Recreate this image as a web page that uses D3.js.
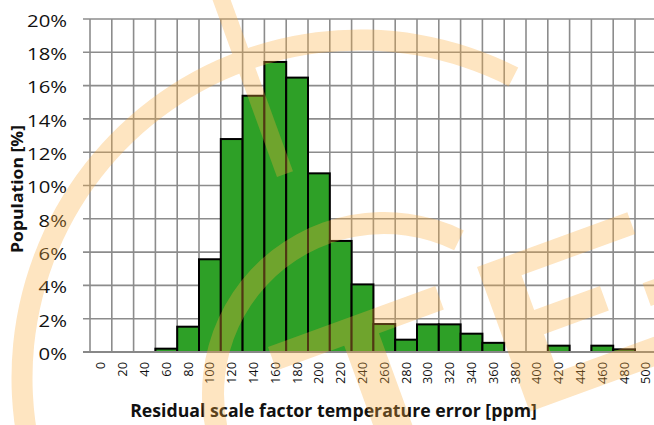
<!DOCTYPE html>
<html><head><meta charset="utf-8">
<script src="https://cdn.jsdelivr.net/npm/d3@7"></script>
<style>html,body{margin:0;padding:0;background:#fff;} svg{display:block;}</style>
</head><body>
<svg id="chart" width="654" height="425"></svg>
<script>
// ---- data ----
const categories = ["0","20","40","60","80","100","120","140","160","180","200","220","240","260","280","300","320","340","360","380","400","420","440","460","480","500"];
const population = [0,0,0,0.20,1.52,5.57,12.79,15.39,17.42,16.48,10.73,6.67,4.06,1.68,0.74,1.66,1.66,1.10,0.55,0,0,0.38,0,0.38,0.16,0];
const yTicks = [0,2,4,6,8,10,12,14,16,18,20];
const xTitle = "Residual scale factor temperature error [ppm]";
const yTitle = "Population [%]";

// ---- layout ----
const FONT = "'Open Sans', Lato, sans-serif";
const plotLeft = 90, plotTop = 19, plotBottom = 352, step = 21.8;
const plotRight = plotLeft + categories.length * step;

const svg = d3.select("#chart");
const x = d3.scaleBand().domain(categories).range([plotLeft, plotRight]).padding(0);
const y = d3.scaleLinear().domain([0, 20]).range([plotBottom, plotTop]);

// grid
const grid = svg.append("g").attr("stroke", "#8c8c8c").attr("stroke-width", 1.6);
grid.selectAll("line.h").data(yTicks).join("line").attr("class","h")
  .attr("x1", plotLeft - 7).attr("x2", plotRight).attr("y1", d => y(d)).attr("y2", d => y(d));
const bounds = categories.map(c => x(c)).concat([x(categories[categories.length-1]) + x.bandwidth()]);
grid.selectAll("line.v").data(bounds).join("line").attr("class","v")
  .attr("x1", d => d).attr("x2", d => d).attr("y1", plotTop).attr("y2", plotBottom);

// bars
const data = categories.map((c, i) => ({c, v: population[i]})).filter(d => d.v > 0);
svg.append("g").selectAll("rect").data(data).join("rect")
  .attr("x", d => x(d.c)).attr("width", x.bandwidth())
  .attr("y", d => y(d.v)).attr("height", d => y(0) - y(d.v))
  .attr("fill", "#2ea027").attr("stroke", "#000").attr("stroke-width", 2);

// x axis baseline
svg.append("line").attr("x1", plotLeft - 7).attr("x2", plotRight).attr("y1", y(0)).attr("y2", y(0))
  .attr("stroke", "#888").attr("stroke-width", 2);

function widthOf(text, size, weight) {
  const t = svg.append("text").attr("font-family", FONT).attr("font-size", size)
    .attr("font-weight", weight).text(text);
  const w = t.node().getComputedTextLength();
  t.remove();
  return w;
}

// y tick labels
const kY = 40 / widthOf("20%", 16.5, 400);
svg.append("g").selectAll("text").data(yTicks).join("text")
  .attr("transform", d => `translate(67,${y(d) + 7.8}) scale(${kY},1)`)
  .attr("text-anchor", "end").attr("font-family", FONT).attr("font-size", 16.5)
  .attr("fill", "#111").text(d => d + "%");

// x tick labels
const kX = 22 / widthOf("100", 12.5, 400);
svg.append("g").selectAll("text").data(categories).join("text")
  .attr("transform", d => `translate(${x(d) + x.bandwidth()/2},362) rotate(-90) scale(${kX},1)`)
  .attr("text-anchor", "end").attr("dy", "0.36em")
  .attr("font-family", FONT).attr("font-size", 12.5).attr("fill", "#111").text(d => d);

// axis titles
const kT = 407 / widthOf(xTitle, 17.5, 700);
svg.append("text").attr("transform", `translate(333.5,417) scale(${kT},1)`)
  .attr("text-anchor", "middle").attr("font-family", FONT).attr("font-size", 17.5)
  .attr("font-weight", 700).attr("fill", "#111").text(xTitle);
const kYT = 128 / widthOf(yTitle, 16.5, 700);
svg.append("text").attr("transform", `translate(23,189) rotate(-90) scale(${kYT},1)`)
  .attr("text-anchor", "middle").attr("font-family", FONT).attr("font-size", 16.5)
  .attr("font-weight", 700).attr("fill", "#111").text(yTitle);

// ---- watermark decoration (semi-transparent logo overlay) ----
const deg = Math.PI / 180;
const wm = svg.append("g").attr("opacity", 0.32).attr("fill", "#faac3e").style("pointer-events", "none");
wm.append("path").attr("transform", "translate(360,378)")
  .attr("d", d3.arc()({innerRadius: 327.5, outerRadius: 348.5, startAngle: -110 * deg, endAngle: 27 * deg}));
wm.append("path").attr("transform", "translate(384,394)")
  .attr("d", d3.arc()({innerRadius: 160, outerRadius: 182, startAngle: -120 * deg, endAngle: 26 * deg}));
const poly = pts => "M" + pts.map(p => p.join(",")).join("L") + "Z";
wm.append("path").attr("transform", "translate(277,177) rotate(-20)")
  .attr("d", poly([[0,0],[17,0],[17,-230],[0,-230]]));
wm.append("path").attr("transform", "translate(268,347) rotate(-20)")
  .attr("d", poly([[0,0],[178,0],[178,25],[109,25],[109,200],[72,200],[72,25],[0,25]]));
wm.append("path").attr("transform", "translate(477,267) rotate(-20)")
  .attr("d", poly([[0,0],[160,0],[160,23],[39,23],[39,60],[109,60],[109,86],[40,86],[40,126],[190,126],[190,154],[0,154]]));
wm.append("path").attr("transform", "translate(477,267) rotate(-20)")
  .attr("d", poly([[150,72],[230,72],[230,96],[150,96]]));
</script>
</body></html>
